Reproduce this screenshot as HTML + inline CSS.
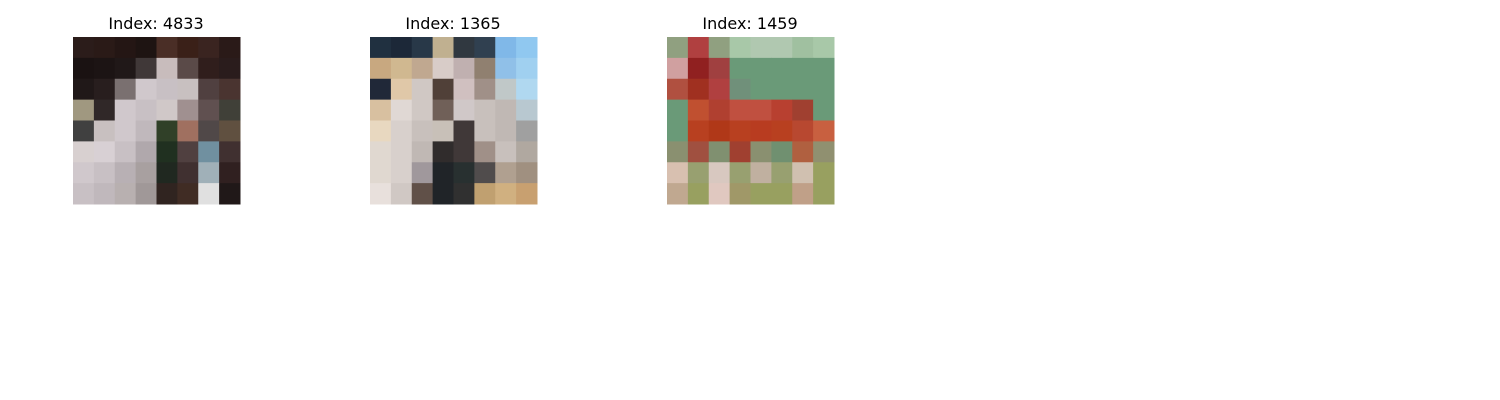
<!DOCTYPE html>
<html><head><meta charset="utf-8"><style>
body{margin:0;background:#fff;width:1500px;height:400px;overflow:hidden}
svg{display:block}
</style></head><body>
<svg id="fig" width="1500" height="400" xmlns="http://www.w3.org/2000/svg">
<rect width="1500" height="400" fill="#fff"/>
<text x="156" y="29" text-anchor="middle" font-family="DejaVu Sans, sans-serif" font-size="16">Index: 4833</text>
<text x="453" y="29" text-anchor="middle" font-family="DejaVu Sans, sans-serif" font-size="16">Index: 1365</text>
<text x="750" y="29" text-anchor="middle" font-family="DejaVu Sans, sans-serif" font-size="16">Index: 1459</text>
<g id="imgs"></g>
</svg>
<script>
const imageIndices=[4833,1365,1459];
const imageLefts=[73,370,667];
const img1=[
["2b1c1a","2a1a17","241614","1e1412","4a2e26","3a2018","3a2420","2a1a18"],
["1a1212","1c1414","201818","403838","c8bcbc","5a4a48","301e1c","2a1c1c"],
["201818","281e1e","7a7070","d0c8cc","c8c0c4","c8c0c0","504040","4a3430"],
["a09880","302828","d0c8cc","c8c0c4","d0c8c8","a09090","605050","404038"],
["404040","c8c0c0","d0c8cc","c0b8bc","304028","a07060","504848","605040"],
["d8d0d0","d8d0d4","c8c0c4","b0a8ac","203020","504040","7090a0","403030"],
["d0c8cc","c8c0c4","b8b0b4","a8a0a0","202820","403030","a0b0b8","302020"],
["c8c0c4","c0b8bc","b8b0b0","a09898","302420","402c24","e0e0e0","201818"]];
const img2=[
["203040","1c2838","283848","c0b090","303840","304050","80b8e8","90c8f0"],
["c8a880","d0b890","c0a890","d8ccc8","c0b0b0","908070","90c0e8","a0d0f0"],
["202838","e0c8a8","d0c8c4","504038","d0c0c0","a09088","c0c8c8","b0d8f0"],
["d8c0a0","e0d8d4","d0c8c4","706058","d0c8c8","c8c0bc","c0b8b4","b8c8d0"],
["e8d8c0","d8d0cc","c8c0bc","c8c0b8","403838","c8c0bc","c0b8b4","a0a0a0"],
["e0d8d0","d8d0cc","c0b8b4","302c2c","403838","a09088","c8c0bc","b0a8a0"],
["e0d8d0","d8d0cc","a0989c","202428","283030","504c4c","b0a090","a09080"],
["e8e0dc","d0c8c4","605048","202428","303030","c0a070","d0b080","c8a070"]];
const img3=[
["90a080","b04040","90a080","a8c8a8","b0c8b0","b0c8b0","a0c0a0","a8c8a8"],
["d0a0a0","902020","a04040","6a9a78","6a9a78","6a9a78","6a9a78","6a9a78"],
["b05040","a03020","b04040","70907a","6a9a78","6a9a78","6a9a78","6a9a78"],
["6a9a78","c05030","b04030","c05040","c05040","b84030","a04030","6a9a78"],
["6a9a78","b84020","b03818","b84020","b83c20","b84020","b84830","c86040"],
["8a9070","a05040","809070","a04030","8a9070","709070","b06040","909070"],
["d8c0b0","98a070","d8c8c0","98a070","c0b0a0","98a070","d0c0b0","98a060"],
["c0a890","98a060","e0c8c0","a09868","98a060","98a060","c0a088","98a060"]];
const images=[img1,img2,img3];
const NS="http://www.w3.org/2000/svg";
const g=document.getElementById('imgs');
const top0=37,size=167;
images.forEach((im,k)=>{
  const grp=document.createElementNS(NS,'g');
  
  
  const n=im.length,c=size/n;
  im.forEach((row,r)=>row.forEach((col,j)=>{
    const rc=document.createElementNS(NS,'rect');
    rc.setAttribute('x',imageLefts[k]+j*c);
    rc.setAttribute('y',top0+r*c);
    rc.setAttribute('width',c+0.5);
    rc.setAttribute('height',c+0.5);
    rc.setAttribute('fill','#'+col);
    grp.appendChild(rc);
  }));
  g.appendChild(grp);
});
</script>
</body></html>
